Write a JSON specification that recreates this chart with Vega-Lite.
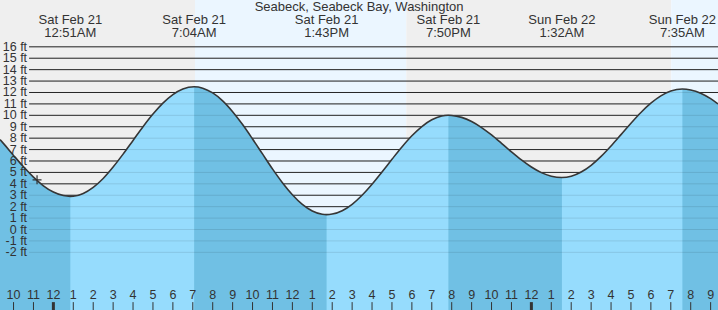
{
  "$schema": "https://vega.github.io/schema/vega-lite/v6.json",
  "width": 718,
  "height": 310,
  "padding": 0,
  "autosize": "none",
  "background": "#ffffff",
  "config": {"view": {"stroke": null}, "text": {"font": "Liberation Sans", "color": "#333333"}},
  "datasets": {
    "bands": [
      {"h": -2.68, "h2": 7.11, "c": "night"},
      {"h": 7.11, "h2": 17.72, "c": "day"},
      {"h": 17.72, "h2": 31.02, "c": "night"},
      {"h": 31.02, "h2": 33.37, "c": "day"}
    ],
    "grid": [
      {"ft": 16, "t": "16 ft"}, {"ft": 15, "t": "15 ft"}, {"ft": 14, "t": "14 ft"}, {"ft": 13, "t": "13 ft"},
      {"ft": 12, "t": "12 ft"}, {"ft": 11, "t": "11 ft"}, {"ft": 10, "t": "10 ft"}, {"ft": 9, "t": "9 ft"},
      {"ft": 8, "t": "8 ft"}, {"ft": 7, "t": "7 ft"}, {"ft": 6, "t": "6 ft"}, {"ft": 5, "t": "5 ft"},
      {"ft": 4, "t": "4 ft"}, {"ft": 3, "t": "3 ft"}, {"ft": 2, "t": "2 ft"}, {"ft": 1, "t": "1 ft"},
      {"ft": 0, "t": "0 ft"}, {"ft": -1, "t": "-1 ft"}, {"ft": -2, "t": "-2 ft"}
    ],
    "tide": [
      {"h": -2.68, "ft": 7.87, "e": "e0"},
      {"h": -2.5, "ft": 7.52, "e": "e0"},
      {"h": -2, "ft": 6.49, "e": "e0"},
      {"h": -1.5, "ft": 5.49, "e": "e0"},
      {"h": -1, "ft": 4.59, "e": "e0"},
      {"h": -0.5, "ft": 3.83, "e": "e0"},
      {"h": 0, "ft": 3.28, "e": "e0"},
      {"h": 0.5, "ft": 2.97, "e": "e0"},
      {"h": 0.85, "ft": 2.9, "e": "e0"},
      {"h": 1, "ft": 2.91},
      {"h": 1.5, "ft": 3.16},
      {"h": 2, "ft": 3.69},
      {"h": 2.5, "ft": 4.47},
      {"h": 3, "ft": 5.47},
      {"h": 3.5, "ft": 6.6},
      {"h": 4, "ft": 7.8},
      {"h": 4.5, "ft": 9.0},
      {"h": 5, "ft": 10.11},
      {"h": 5.5, "ft": 11.07},
      {"h": 6, "ft": 11.82},
      {"h": 6.5, "ft": 12.31},
      {"h": 7.067, "ft": 12.5, "e": "e1"},
      {"h": 7.5, "ft": 12.38, "e": "e1"},
      {"h": 8, "ft": 11.96, "e": "e1"},
      {"h": 8.5, "ft": 11.27, "e": "e1"},
      {"h": 9, "ft": 10.32, "e": "e1"},
      {"h": 9.5, "ft": 9.19, "e": "e1"},
      {"h": 10, "ft": 7.93, "e": "e1"},
      {"h": 10.5, "ft": 6.62, "e": "e1"},
      {"h": 11, "ft": 5.31, "e": "e1"},
      {"h": 11.5, "ft": 4.1, "e": "e1"},
      {"h": 12, "ft": 3.05, "e": "e1"},
      {"h": 12.5, "ft": 2.2, "e": "e1"},
      {"h": 13, "ft": 1.62, "e": "e1"},
      {"h": 13.5, "ft": 1.33, "e": "e1"},
      {"h": 13.717, "ft": 1.3, "e": "e1"},
      {"h": 14, "ft": 1.35},
      {"h": 14.5, "ft": 1.65},
      {"h": 15, "ft": 2.21},
      {"h": 15.5, "ft": 3.0},
      {"h": 16, "ft": 3.96},
      {"h": 16.5, "ft": 5.04},
      {"h": 17, "ft": 6.15},
      {"h": 17.5, "ft": 7.23},
      {"h": 18, "ft": 8.21},
      {"h": 18.5, "ft": 9.02},
      {"h": 19, "ft": 9.61},
      {"h": 19.5, "ft": 9.94},
      {"h": 19.833, "ft": 10.0, "e": "e2"},
      {"h": 20, "ft": 9.99, "e": "e2"},
      {"h": 20.5, "ft": 9.82, "e": "e2"},
      {"h": 21, "ft": 9.46, "e": "e2"},
      {"h": 21.5, "ft": 8.93, "e": "e2"},
      {"h": 22, "ft": 8.28, "e": "e2"},
      {"h": 22.5, "ft": 7.55, "e": "e2"},
      {"h": 23, "ft": 6.8, "e": "e2"},
      {"h": 23.5, "ft": 6.09, "e": "e2"},
      {"h": 24, "ft": 5.47, "e": "e2"},
      {"h": 24.5, "ft": 4.98, "e": "e2"},
      {"h": 25, "ft": 4.67, "e": "e2"},
      {"h": 25.533, "ft": 4.55, "e": "e2"},
      {"h": 26, "ft": 4.66},
      {"h": 26.5, "ft": 5.03},
      {"h": 27, "ft": 5.62},
      {"h": 27.5, "ft": 6.4},
      {"h": 28, "ft": 7.32},
      {"h": 28.5, "ft": 8.31},
      {"h": 29, "ft": 9.31},
      {"h": 29.5, "ft": 10.25},
      {"h": 30, "ft": 11.06},
      {"h": 30.5, "ft": 11.7},
      {"h": 31, "ft": 12.12},
      {"h": 31.583, "ft": 12.3, "e": "e3"},
      {"h": 32, "ft": 12.22, "e": "e3"},
      {"h": 32.5, "ft": 11.94, "e": "e3"},
      {"h": 33, "ft": 11.46, "e": "e3"},
      {"h": 33.37, "ft": 11.0, "e": "e3"}
    ],
    "events": [
      {"h": 0.85, "d": "Sat Feb 21", "tm": "12:51AM"},
      {"h": 7.067, "d": "Sat Feb 21", "tm": "7:04AM"},
      {"h": 13.717, "d": "Sat Feb 21", "tm": "1:43PM"},
      {"h": 19.833, "d": "Sat Feb 21", "tm": "7:50PM"},
      {"h": 25.533, "d": "Sun Feb 22", "tm": "1:32AM"},
      {"h": 31.583, "d": "Sun Feb 22", "tm": "7:35AM"}
    ],
    "hours": [
      {"h": -2, "l": "10"}, {"h": -1, "l": "11"}, {"h": 0, "l": "12"}, {"h": 1, "l": "1"},
      {"h": 2, "l": "2"}, {"h": 3, "l": "3"}, {"h": 4, "l": "4"}, {"h": 5, "l": "5"},
      {"h": 6, "l": "6"}, {"h": 7, "l": "7"}, {"h": 8, "l": "8"}, {"h": 9, "l": "9"},
      {"h": 10, "l": "10"}, {"h": 11, "l": "11"}, {"h": 12, "l": "12"}, {"h": 13, "l": "1"},
      {"h": 14, "l": "2"}, {"h": 15, "l": "3"}, {"h": 16, "l": "4"}, {"h": 17, "l": "5"},
      {"h": 18, "l": "6"}, {"h": 19, "l": "7"}, {"h": 20, "l": "8"}, {"h": 21, "l": "9"},
      {"h": 22, "l": "10"}, {"h": 23, "l": "11"}, {"h": 24, "l": "12"}, {"h": 25, "l": "1"},
      {"h": 26, "l": "2"}, {"h": 27, "l": "3"}, {"h": 28, "l": "4"}, {"h": 29, "l": "5"},
      {"h": 30, "l": "6"}, {"h": 31, "l": "7"}, {"h": 32, "l": "8"}, {"h": 33, "l": "9"}
    ],
    "title": [{"h": 15.35, "ft": 19.45, "t": "Seabeck, Seabeck Bay, Washington"}],
    "now": [{"h": -0.82, "ft": 4.35}]
  },
  "layer": [
    {
      "data": {"name": "bands"},
      "mark": {"type": "rect"},
      "encoding": {
        "x": {"field": "h", "type": "quantitative", "scale": {"domain": [-2.68, 33.37], "nice": false, "zero": false}, "axis": null},
        "x2": {"field": "h2"},
        "y": {"datum": 20.1, "type": "quantitative", "scale": {"domain": [-7.05, 20.1], "nice": false, "zero": false}, "axis": null},
        "y2": {"datum": -7.05},
        "color": {"field": "c", "type": "nominal", "scale": {"domain": ["night", "day"], "range": ["#efefef", "#ebf6ff"]}, "legend": null}
      }
    },
    {
      "data": {"name": "grid"},
      "mark": {"type": "rule", "color": "#2b2b2b", "strokeWidth": 1},
      "encoding": {
        "x": {"datum": -1.22, "type": "quantitative", "scale": {"domain": [-2.68, 33.37], "nice": false, "zero": false}, "axis": null},
        "x2": {"datum": 33.37},
        "y": {"field": "ft", "type": "quantitative", "scale": {"domain": [-7.05, 20.1], "nice": false, "zero": false}, "axis": null}
      }
    },
    {
      "data": {"name": "tide"},
      "mark": {"type": "area", "color": "#96dcfd", "interpolate": "monotone", "opacity": 1},
      "encoding": {
        "x": {"field": "h", "type": "quantitative", "scale": {"domain": [-2.68, 33.37], "nice": false, "zero": false}, "axis": null},
        "y": {"field": "ft", "type": "quantitative", "scale": {"domain": [-7.05, 20.1], "nice": false, "zero": false}, "axis": null},
        "y2": {"datum": -7.05}
      }
    },
    {
      "data": {"name": "tide"},
      "transform": [{"filter": "datum.e != null"}],
      "mark": {"type": "area", "color": "#70c0e4", "interpolate": "monotone", "opacity": 1},
      "encoding": {
        "x": {"field": "h", "type": "quantitative", "scale": {"domain": [-2.68, 33.37], "nice": false, "zero": false}, "axis": null},
        "y": {"field": "ft", "type": "quantitative", "scale": {"domain": [-7.05, 20.1], "nice": false, "zero": false}, "axis": null},
        "y2": {"datum": -7.05},
        "detail": {"field": "e", "type": "nominal"}
      }
    },
    {
      "data": {"name": "grid"},
      "mark": {"type": "rule", "color": "#000000", "strokeWidth": 1, "opacity": 0.1},
      "encoding": {
        "x": {"datum": -1.22, "type": "quantitative", "scale": {"domain": [-2.68, 33.37], "nice": false, "zero": false}, "axis": null},
        "x2": {"datum": 33.37},
        "y": {"field": "ft", "type": "quantitative", "scale": {"domain": [-7.05, 20.1], "nice": false, "zero": false}, "axis": null}
      }
    },
    {
      "data": {"name": "tide"},
      "mark": {"type": "line", "color": "#363636", "strokeWidth": 1.6, "interpolate": "monotone"},
      "encoding": {
        "x": {"field": "h", "type": "quantitative", "scale": {"domain": [-2.68, 33.37], "nice": false, "zero": false}, "axis": null},
        "y": {"field": "ft", "type": "quantitative", "scale": {"domain": [-7.05, 20.1], "nice": false, "zero": false}, "axis": null}
      }
    },
    {
      "data": {"name": "now"},
      "mark": {"type": "point", "shape": "M-1,0L1,0M0,-1L0,1", "filled": false, "size": 81, "stroke": "#333333", "strokeWidth": 1.2, "opacity": 1},
      "encoding": {
        "x": {"field": "h", "type": "quantitative", "scale": {"domain": [-2.68, 33.37], "nice": false, "zero": false}, "axis": null},
        "y": {"field": "ft", "type": "quantitative", "scale": {"domain": [-7.05, 20.1], "nice": false, "zero": false}, "axis": null}
      }
    },
    {
      "data": {"name": "grid"},
      "mark": {"type": "text", "align": "right", "baseline": "middle", "fontSize": 12.5},
      "encoding": {
        "x": {"datum": -1.32, "type": "quantitative", "scale": {"domain": [-2.68, 33.37], "nice": false, "zero": false}, "axis": null},
        "y": {"field": "ft", "type": "quantitative", "scale": {"domain": [-7.05, 20.1], "nice": false, "zero": false}, "axis": null},
        "text": {"field": "t"}
      }
    },
    {
      "data": {"name": "hours"},
      "mark": {"type": "rule", "color": "#333333"},
      "encoding": {
        "x": {"field": "h", "type": "quantitative", "scale": {"domain": [-2.68, 33.37], "nice": false, "zero": false}, "axis": null},
        "y": {"datum": -6.36, "type": "quantitative", "scale": {"domain": [-7.05, 20.1], "nice": false, "zero": false}, "axis": null},
        "y2": {"datum": -7.05},
        "strokeWidth": {"condition": {"test": "datum.h % 24 == 0", "value": 3}, "value": 1}
      }
    },
    {
      "data": {"name": "hours"},
      "mark": {"type": "text", "align": "center", "baseline": "middle", "fontSize": 12.5},
      "encoding": {
        "x": {"field": "h", "type": "quantitative", "scale": {"domain": [-2.68, 33.37], "nice": false, "zero": false}, "axis": null},
        "y": {"datum": -5.74, "type": "quantitative", "scale": {"domain": [-7.05, 20.1], "nice": false, "zero": false}, "axis": null},
        "text": {"field": "l"}
      }
    },
    {
      "data": {"name": "events"},
      "mark": {"type": "text", "align": "center", "baseline": "middle", "fontSize": 13},
      "encoding": {
        "x": {"field": "h", "type": "quantitative", "scale": {"domain": [-2.68, 33.37], "nice": false, "zero": false}, "axis": null},
        "y": {"datum": 18.35, "type": "quantitative", "scale": {"domain": [-7.05, 20.1], "nice": false, "zero": false}, "axis": null},
        "text": {"field": "d"}
      }
    },
    {
      "data": {"name": "events"},
      "mark": {"type": "text", "align": "center", "baseline": "middle", "fontSize": 13},
      "encoding": {
        "x": {"field": "h", "type": "quantitative", "scale": {"domain": [-2.68, 33.37], "nice": false, "zero": false}, "axis": null},
        "y": {"datum": 17.25, "type": "quantitative", "scale": {"domain": [-7.05, 20.1], "nice": false, "zero": false}, "axis": null},
        "text": {"field": "tm"}
      }
    },
    {
      "data": {"name": "title"},
      "mark": {"type": "text", "align": "center", "baseline": "middle", "fontSize": 13},
      "encoding": {
        "x": {"field": "h", "type": "quantitative", "scale": {"domain": [-2.68, 33.37], "nice": false, "zero": false}, "axis": null},
        "y": {"field": "ft", "type": "quantitative", "scale": {"domain": [-7.05, 20.1], "nice": false, "zero": false}, "axis": null},
        "text": {"field": "t"}
      }
    }
  ]
}
